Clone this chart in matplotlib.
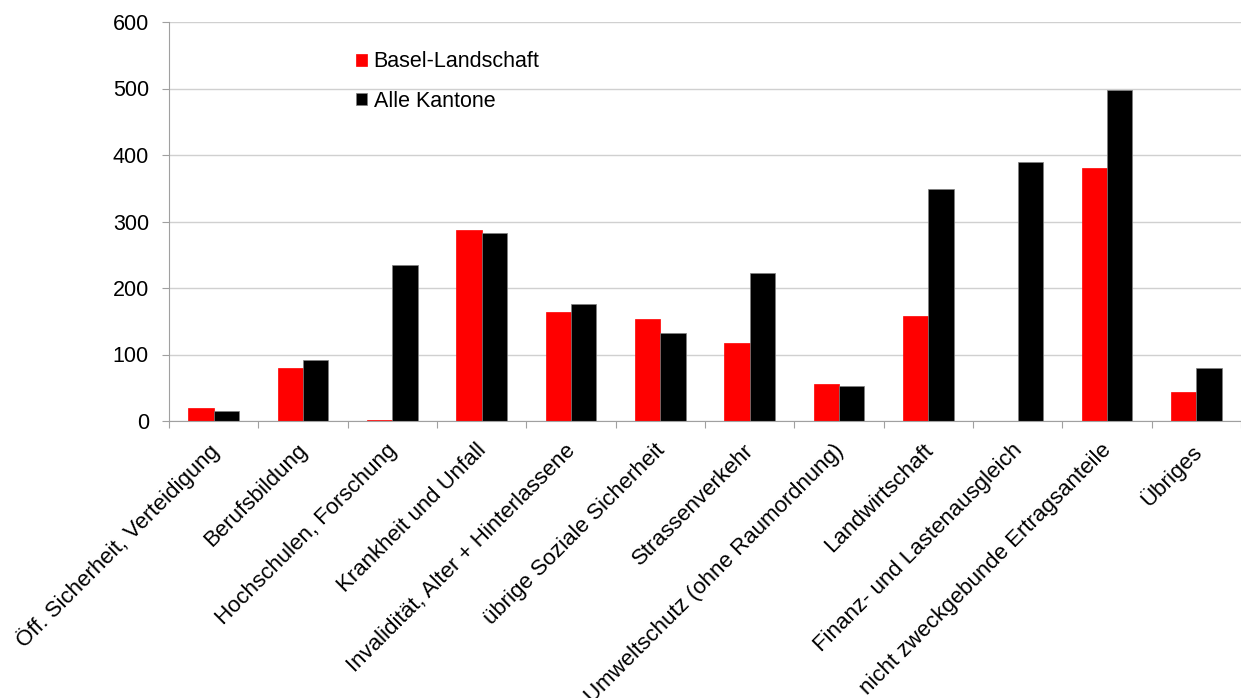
import numpy as np
import matplotlib.pyplot as plt
from matplotlib.transforms import ScaledTranslation

categories = [
    "Öff. Sicherheit, Verteidigung",
    "Berufsbildung",
    "Hochschulen, Forschung",
    "Krankheit und Unfall",
    "Invalidität, Alter + Hinterlassene",
    "übrige Soziale Sicherheit",
    "Strassenverkehr",
    "Umweltschutz (ohne Raumordnung)",
    "Landwirtschaft",
    "Finanz- und Lastenausgleich",
    "nicht zweckgebunde Ertragsanteile",
    "Übriges",
]
basel_landschaft = [19, 80, 2, 287, 164, 153, 117, 55, 158, 0, 380, 43]
alle_kantone = [15, 91, 235, 283, 176, 132, 223, 53, 349, 390, 498, 79]
y_ticks = [0, 100, 200, 300, 400, 500, 600]

plt.rcParams['font.family'] = ['Liberation Sans', 'DejaVu Sans']

fig = plt.figure(figsize=(12.41, 6.98), dpi=100)
ax = fig.add_axes([169 / 1241, 1 - 421 / 698, 1 - 169 / 1241, (421 - 22) / 698])

x = np.arange(len(categories))
w = 0.285
ax.bar(x - w / 2, basel_landschaft, w, color="#ff0000", edgecolor="#ff0000",
       linewidth=0.5, label="Basel-Landschaft", zorder=3)
ax.bar(x + w / 2, alle_kantone, w, color="#000000", edgecolor="#808080",
       linewidth=0.5, label="Alle Kantone", zorder=3)

ax.set_xlim(-0.5, len(categories) - 0.5)
ax.set_ylim(0, 600)
ax.set_yticks(y_ticks)
ax.yaxis.grid(True, color="#d0d0d0", linewidth=1, zorder=0)

# tick marks at the category boundaries, labels drawn by hand in the middle
ax.set_xticks(np.arange(len(categories) + 1) - 0.5)
ax.set_xticklabels([])
ax.tick_params(axis="x", length=5, color="#a0a0a0")
ax.tick_params(axis="y", length=5, color="#a0a0a0", labelsize=15.5, pad=9.5)

shift = ScaledTranslation(-6 / 100, -19 / 100, fig.dpi_scale_trans)
for xi, name in zip(x, categories):
    ax.text(xi, 0, name, transform=ax.get_xaxis_transform() + shift,
            rotation=45, ha="right", va="top", rotation_mode="anchor",
            fontsize=16)

for side in ("top", "right"):
    ax.spines[side].set_visible(False)
for side in ("left", "bottom"):
    ax.spines[side].set_color("#a0a0a0")
ax.spines["bottom"].set_zorder(4)

ax.legend(loc="upper left", bbox_to_anchor=(352 / 1241, 1 - 47 / 698),
          bbox_transform=fig.transFigure, frameon=False, fontsize=15.5,
          handlelength=0.5, handleheight=0.5, handletextpad=0.3,
          labelspacing=0.85, borderaxespad=0, borderpad=0.2)

fig.savefig("out.png", dpi=100)
